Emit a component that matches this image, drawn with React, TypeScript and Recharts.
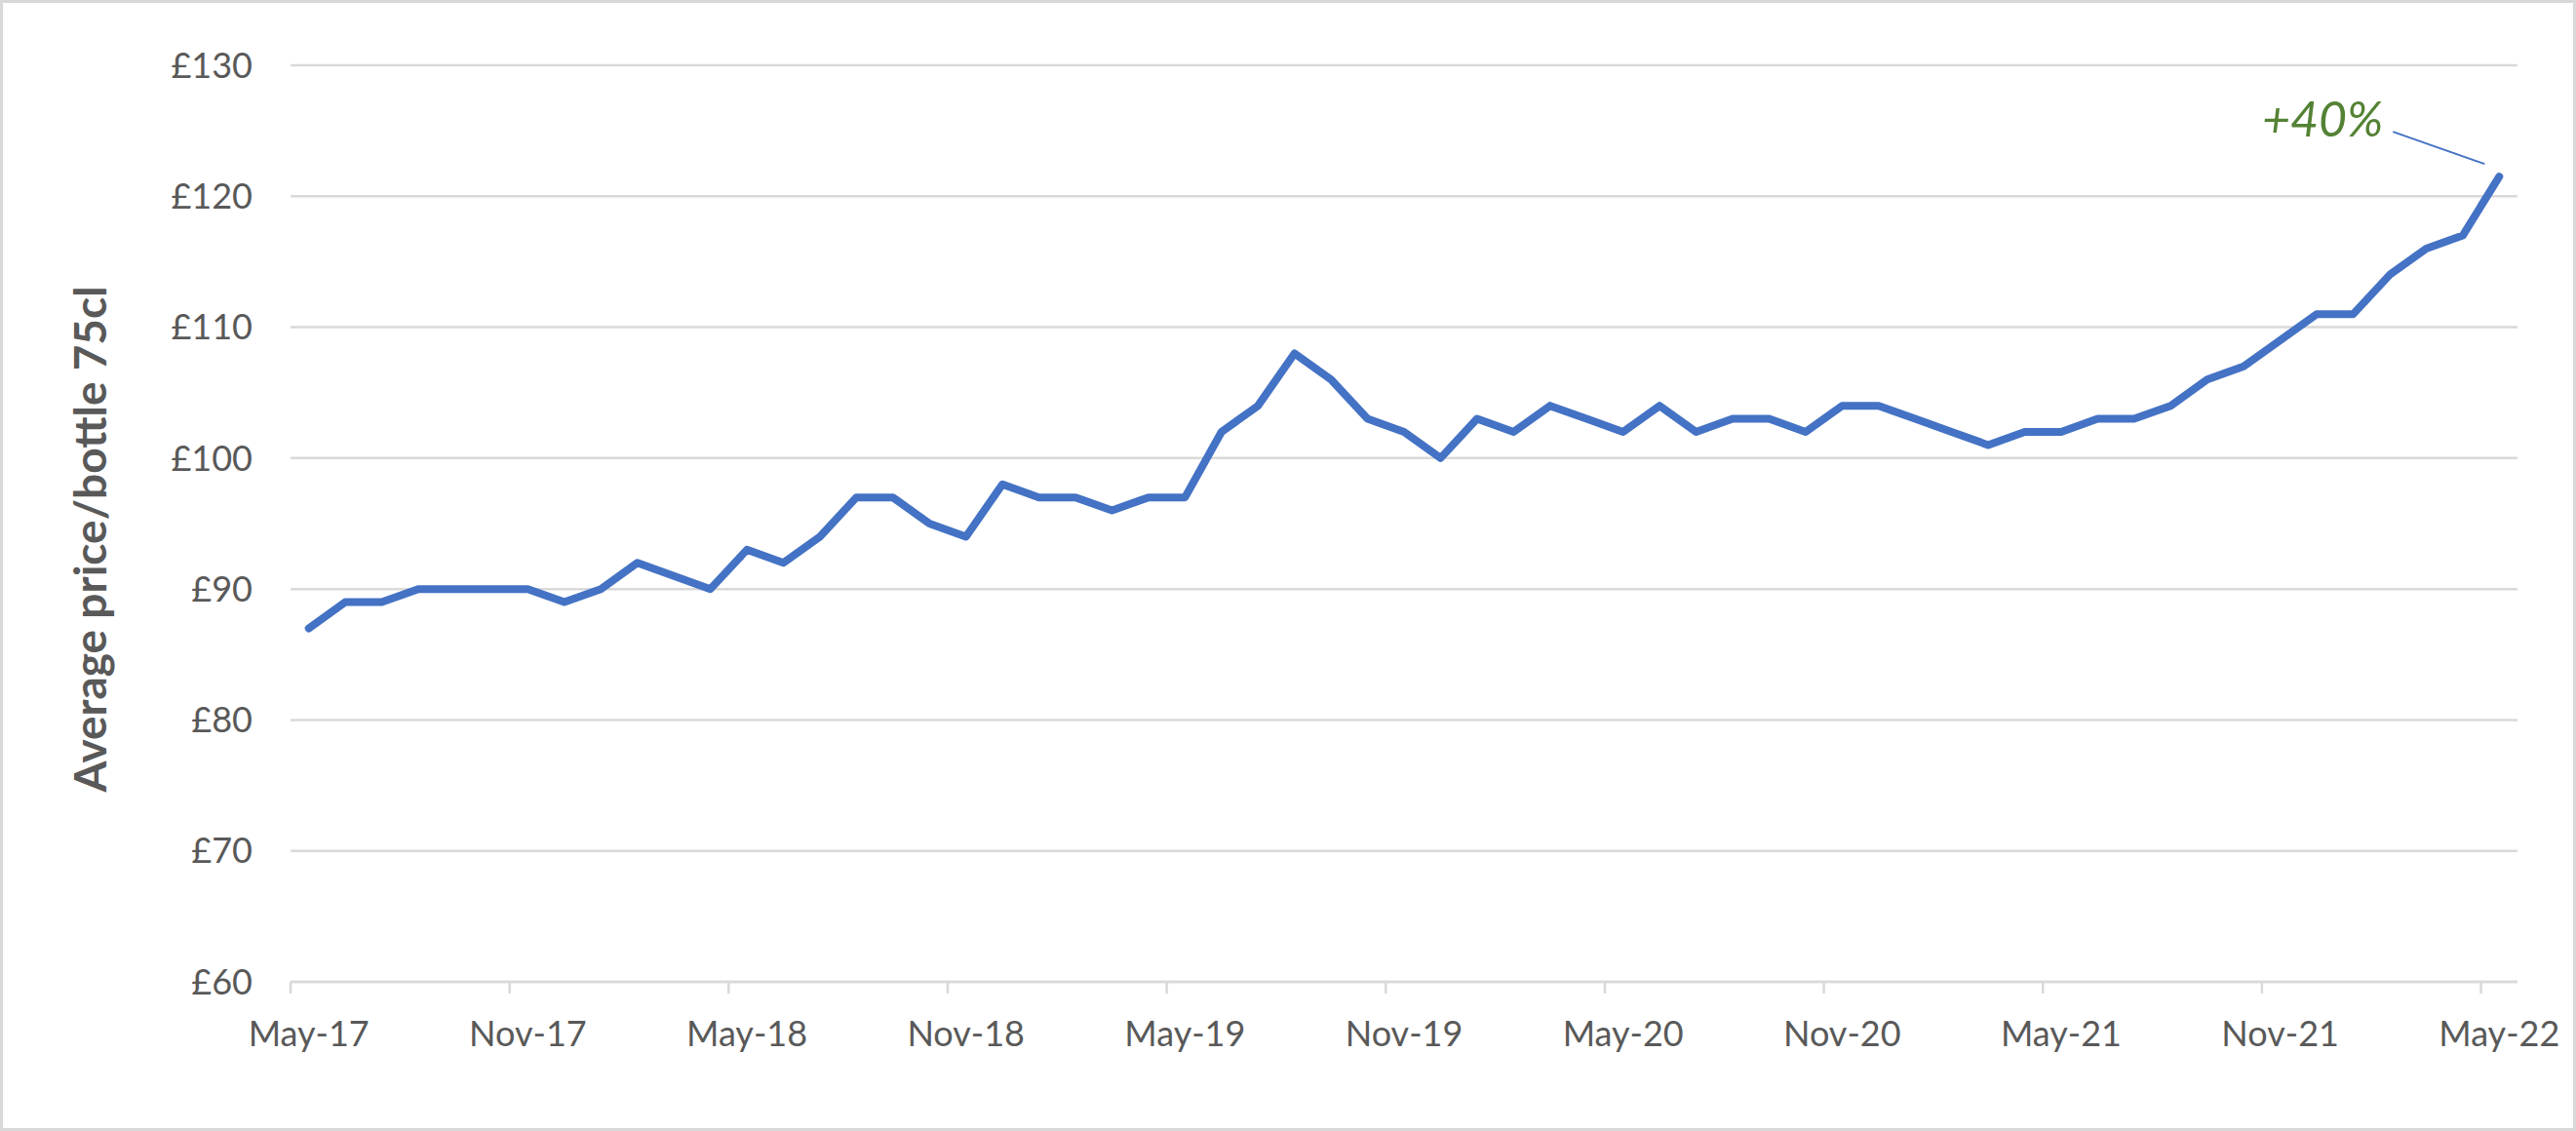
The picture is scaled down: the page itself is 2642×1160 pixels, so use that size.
import React from "react";
import {
  LineChart,
  Line,
  XAxis,
  YAxis,
  CartesianGrid,
  Label,
  LabelList,
} from "recharts";

// Monthly categories, May-17 to May-22
const months = [
  "May-17", "Jun-17", "Jul-17", "Aug-17", "Sep-17", "Oct-17", "Nov-17", "Dec-17",
  "Jan-18", "Feb-18", "Mar-18", "Apr-18", "May-18", "Jun-18", "Jul-18", "Aug-18",
  "Sep-18", "Oct-18", "Nov-18", "Dec-18",
  "Jan-19", "Feb-19", "Mar-19", "Apr-19", "May-19", "Jun-19", "Jul-19", "Aug-19",
  "Sep-19", "Oct-19", "Nov-19", "Dec-19",
  "Jan-20", "Feb-20", "Mar-20", "Apr-20", "May-20", "Jun-20", "Jul-20", "Aug-20",
  "Sep-20", "Oct-20", "Nov-20", "Dec-20",
  "Jan-21", "Feb-21", "Mar-21", "Apr-21", "May-21", "Jun-21", "Jul-21", "Aug-21",
  "Sep-21", "Oct-21", "Nov-21", "Dec-21",
  "Jan-22", "Feb-22", "Mar-22", "Apr-22", "May-22",
];

// Average price per 75cl bottle (GBP)
const prices = [
  87, 89, 89, 90, 90, 90, 90, 89,
  90, 92, 91, 90, 93, 92, 94, 97, 97, 95, 94, 98,
  97, 97, 96, 97, 97, 102, 104, 108, 106, 103, 102, 100,
  103, 102, 104, 103, 102, 104, 102, 103, 103, 102, 104, 104,
  103, 102, 101, 102, 102, 103, 103, 104, 106, 107, 109, 111,
  111, 114, 116, 117, 121.5,
];

const xTickLabels = [
  "May-17", "Nov-17", "May-18", "Nov-18", "May-19", "Nov-19",
  "May-20", "Nov-20", "May-21", "Nov-21", "May-22",
];
const yTicks = [60, 70, 80, 90, 100, 110, 120, 130];
const gainLabel = "+40%";

const CHART_W = 2642;
const CHART_H = 1160;
const MARGIN = { top: 67, right: 60, left: 0, bottom: 0 };
const Y_AXIS_W = 298;
const X_AXIS_H = 153;
const PLOT_W = CHART_W - MARGIN.left - MARGIN.right - Y_AXIS_W;
const HALF_SLOT = PLOT_W / months.length / 2;

const TEXT = "#595959";
const GRID = "#d9d9d9";

const data = months.map((m, i) => ({ idx: i, month: m, price: prices[i] }));
// tick marks sit on the left edge of each month slot
const xTicks = xTickLabels.map((l) => months.indexOf(l) - 0.5);

const MonthTick = (props: any) => {
  const { x, y, payload } = props;
  const label = months[Math.round(payload.value + 0.5)];
  return (
    <g>
      <line x1={x} x2={x} y1={y} y2={y + 12} stroke={GRID} strokeWidth={2.5} />
      <text
        x={x + HALF_SLOT}
        y={y + 66}
        textAnchor="middle"
        fill={TEXT}
        fontSize={36}
      >
        {label}
      </text>
    </g>
  );
};

const renderTitle = (props: any) => {
  const { x, y, height } = props.viewBox;
  const cx = x + 109;
  const cy = y + height / 2 + 16;
  return (
    <text
      x={cx}
      y={cy}
      transform={`rotate(-90 ${cx} ${cy})`}
      textAnchor="middle"
      fontWeight="bold"
      fontSize={46}
      fill={TEXT}
    >
      Average price/bottle 75cl
    </text>
  );
};

const renderGain = (props: any) => {
  const { x, y, index } = props;
  if (index !== prices.length - 1) return null;
  return (
    <g>
      <line
        x1={x - 109}
        y1={y - 46}
        x2={x - 15}
        y2={y - 13}
        stroke="#4472c4"
        strokeWidth={2}
      />
      <text
        x={x - 119}
        y={y - 41}
        textAnchor="end"
        fontStyle="italic"
        fontSize={50}
        fill="#548235"
      >
        {gainLabel}
      </text>
    </g>
  );
};

const App = () => {
  return (
    <div
      style={{
        position: "absolute",
        left: 0,
        top: 0,
        width: CHART_W,
        height: CHART_H,
        background: "#fff",
        outline: `3px solid ${GRID}`,
        outlineOffset: -3,
        fontFamily: "Lato, 'Open Sans', sans-serif",
      }}
    >
      <LineChart width={CHART_W} height={CHART_H} data={data} margin={MARGIN}>
        <CartesianGrid vertical={false} stroke={GRID} strokeWidth={2.5} />
        <XAxis
          type="number"
          dataKey="idx"
          domain={[-0.5, prices.length - 0.5]}
          ticks={xTicks}
          interval={0}
          height={X_AXIS_H}
          tickLine={false}
          tickSize={0}
          tickMargin={0}
          axisLine={{ stroke: GRID, strokeWidth: 2.5 }}
          tick={MonthTick}
        />
        <YAxis
          type="number"
          domain={[60, 130]}
          ticks={yTicks}
          width={Y_AXIS_W}
          axisLine={false}
          tickLine={false}
          tickSize={0}
          tickMargin={39}
          tickFormatter={(v) => `£${v}`}
          tick={{ fill: TEXT, fontSize: 36 }}
        >
          <Label content={renderTitle} />
        </YAxis>
        <Line
          type="linear"
          dataKey="price"
          stroke="#4472c4"
          strokeWidth={8}
          strokeLinecap="round"
          strokeLinejoin="round"
          dot={false}
          activeDot={false}
          isAnimationActive={false}
        >
          <LabelList dataKey="price" content={renderGain} />
        </Line>
      </LineChart>
    </div>
  );
};

export default App;
